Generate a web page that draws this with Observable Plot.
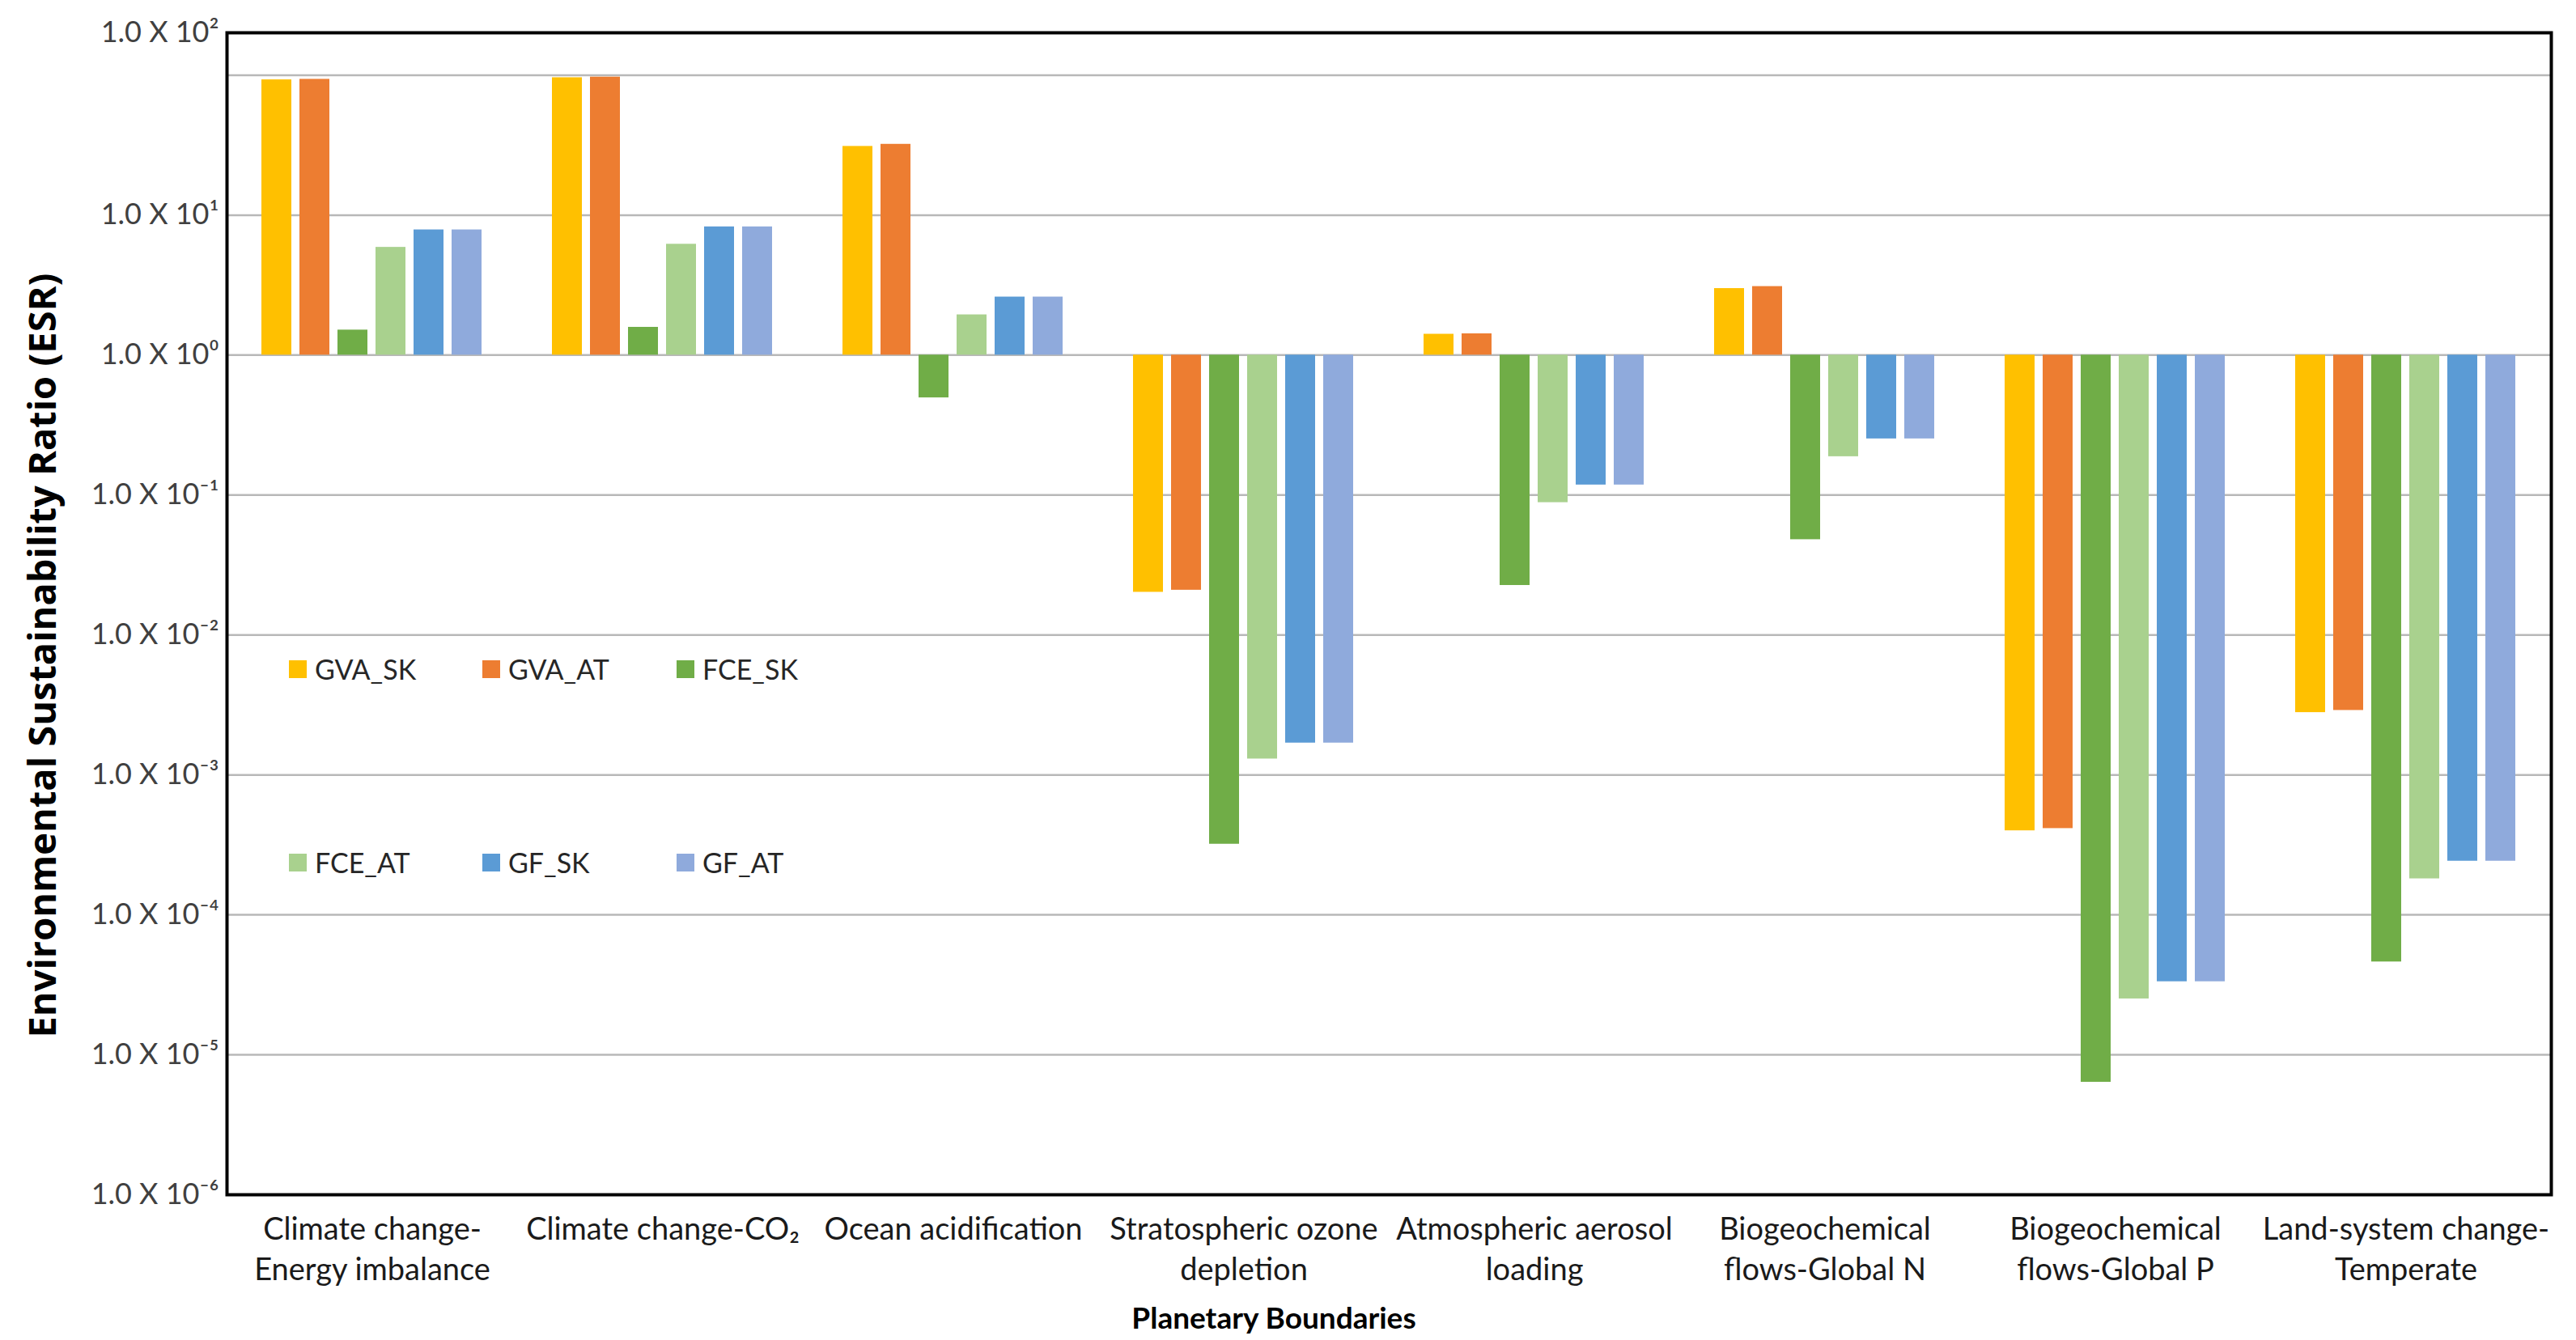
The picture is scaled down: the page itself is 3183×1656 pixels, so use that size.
<!DOCTYPE html>
<html>
<head>
<meta charset="utf-8">
<script src="https://cdn.jsdelivr.net/npm/d3@7"></script>
<script src="https://cdn.jsdelivr.net/npm/@observablehq/plot@0.6"></script>
<style>
  html, body { margin: 0; padding: 0; background: #fff; }
  #wrap { position: relative; width: 3183px; height: 1656px; font-family: Lato, "Open Sans", sans-serif; }
  #wrap svg { position: absolute; left: 0; top: 0; }
  .legend-item { position: absolute; display: flex; align-items: center; font-size: 34px; color: #262626; white-space: nowrap; line-height: 1; }
  .sw { width: 22px; height: 22px; margin-right: 10px; flex: none; }
  #ytitle { position: absolute; left: 51px; top: 810px; transform: translate(-50%, -50%) rotate(-90deg); font-family: "Open Sans", Lato, sans-serif; font-weight: 700; font-size: 47px; white-space: nowrap; color: #000; }
  #xtitle { position: absolute; left: 1574px; top: 1627px; transform: translate(-50%, -50%); font-weight: 700; font-size: 37px; white-space: nowrap; color: #000; }
</style>
</head>
<body>
<div id="wrap"></div>
<script>
// ---- Data ----
const categories = [
  "Climate change-\nEnergy imbalance",
  "Climate change-CO\u2082",
  "Ocean acidification",
  "Stratospheric ozone\ndepletion",
  "Atmospheric aerosol\nloading",
  "Biogeochemical\nflows-Global N",
  "Biogeochemical\nflows-Global P",
  "Land-system change-\nTemperate"
];
const series = ["GVA_SK", "GVA_AT", "FCE_SK", "FCE_AT", "GF_SK", "GF_AT"];
const seriesColors = ["#FFC000", "#ED7D31", "#70AD47", "#A9D18E", "#5B9BD5", "#8FAADC"];

const GVA_SK = [92.7, 96, 31.0, 0.0202, 1.41, 2.99, 3.99e-4, 2.79e-3];
const GVA_AT = [93.5, 97, 32.1, 0.0209, 1.42, 3.09, 4.14e-4, 2.89e-3];
const FCE_SK = [1.51, 1.58, 0.495, 3.2e-4, 0.0226, 0.048, 6.37e-6, 4.61e-5];
const FCE_AT = [5.89, 6.2, 1.94, 1.30e-3, 0.0883, 0.188, 2.51e-5, 1.81e-4];
const GF_SK  = [7.85, 8.25, 2.60, 1.69e-3, 0.118, 0.252, 3.33e-5, 2.42e-4];
const GF_AT  = [7.85, 8.25, 2.60, 1.69e-3, 0.118, 0.252, 3.33e-5, 2.42e-4];

const yDomain = [1e-6, 201];
const yTicks = [200, 10, 1, 0.1, 0.01, 0.001, 1e-4, 1e-5, 1e-6];
const yTickLabels = [
  "1.0 X 10\u00B2", "1.0 X 10\u00B9", "1.0 X 10\u2070", "1.0 X 10\u207B\u00B9",
  "1.0 X 10\u207B\u00B2", "1.0 X 10\u207B\u00B3", "1.0 X 10\u207B\u2074",
  "1.0 X 10\u207B\u2075", "1.0 X 10\u207B\u2076"
];
const gridValues = [100, 10, 1, 0.1, 0.01, 0.001, 1e-4, 1e-5];

const yTitle = "Environmental Sustainability Ratio (ESR)";
const xTitle = "Planetary Boundaries";

// ---- Build tables ----
const valuesBySeries = [GVA_SK, GVA_AT, FCE_SK, FCE_AT, GF_SK, GF_AT];
const rows = [];
categories.forEach((c, i) => {
  series.forEach((s, j) => rows.push({category: c, series: s, value: valuesBySeries[j][i]}));
});
const tickRows = yTicks.map((v, i) => ({v, label: yTickLabels[i], fx: categories[0]}));

const FONT = "Lato, 'Open Sans', sans-serif";

const chart = Plot.plot({
  width: 3183,
  height: 1656,
  marginTop: 40,
  marginRight: 31,
  marginBottom: 180,
  marginLeft: 280,
  style: {fontFamily: FONT, background: "white", overflow: "visible"},
  fx: {domain: categories, padding: 0, label: null},
  x: {domain: series, paddingInner: 0.205, paddingOuter: 0.857, axis: null},
  y: {type: "log", domain: yDomain, axis: null},
  color: {domain: series, range: seriesColors},
  marks: [
    Plot.ruleY(gridValues, {stroke: "#b8b8b8", strokeWidth: 2.5}),
    Plot.barY(rows, {fx: "category", x: "series", y1: 1, y2: "value", fill: "series"}),
    // y tick labels, drawn in the first facet (its left edge is the frame's left edge)
    Plot.text(tickRows, {
      fx: "fx", y: "v", text: "label", frameAnchor: "left", textAnchor: "end",
      dx: -10, fontSize: 36, fill: "#404040"
    }),
    Plot.axisFx({
      anchor: "bottom", tickSize: 0, tickPadding: 20, fontSize: 38, lineHeight: 1.32,
      fill: "#1a1a1a", label: null
    }),
    Plot.frame({facet: "super", stroke: "black", strokeWidth: 4})
  ]
});

const wrap = document.getElementById("wrap");
wrap.appendChild(chart);

// Y title
const yt = document.createElement("div");
yt.id = "ytitle"; yt.textContent = yTitle; wrap.appendChild(yt);
// X title
const xt = document.createElement("div");
xt.id = "xtitle"; xt.textContent = xTitle; wrap.appendChild(xt);

// Legend (inside plot area, 2 rows x 3 columns)
const legendLefts = [357, 596, 836];
const legendTops = [827, 1066];
series.forEach((s, i) => {
  const item = document.createElement("div");
  item.className = "legend-item";
  item.style.left = legendLefts[i % 3] + "px";
  item.style.top = (legendTops[Math.floor(i / 3)] - 17) + "px";
  item.style.height = "34px";
  const sw = document.createElement("div");
  sw.className = "sw";
  sw.style.background = seriesColors[i];
  const tx = document.createElement("span");
  tx.textContent = s;
  item.appendChild(sw); item.appendChild(tx);
  wrap.appendChild(item);
});
</script>
</body>
</html>
